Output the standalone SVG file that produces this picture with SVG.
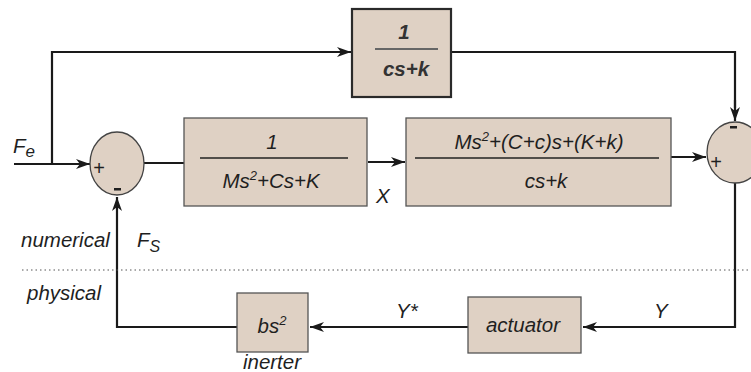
<svg xmlns="http://www.w3.org/2000/svg" width="751" height="372" viewBox="0 0 751 372">
<defs>
<marker id="arr" viewBox="0 0 14 10" refX="14" refY="5" markerWidth="14" markerHeight="10" markerUnits="userSpaceOnUse" orient="auto">
<path d="M0,0 L14,5 L0,10 L4,5 Z" fill="#1a1a1a"/>
</marker>
</defs>
<style>
.box{fill:#dfd1c4;stroke:#555;stroke-width:1.3}
.box2{fill:#dfd1c4;stroke:#2a2a2a;stroke-width:2.2}
.sum{fill:#dfd1c4;stroke:#444;stroke-width:1.3}
.frac{stroke:#222;stroke-width:1.6}
.fracg{stroke:#666;stroke-width:2}
.ln{fill:none;stroke:#1a1a1a;stroke-width:2.2}
.ar{marker-end:url(#arr)}
.dot{stroke:#555;stroke-width:1;stroke-dasharray:1.5 3}
text{font-family:"Liberation Sans",Arial,sans-serif;font-style:italic;font-size:20.5px;fill:#1f1f1f}
.c{text-anchor:middle}
.b{font-weight:bold;fill:#333}
.sign{font-style:normal;font-size:20px;text-anchor:middle}
</style>
<rect width="751" height="372" fill="#fff"/>
<g id="connectors">
<polyline class="ln ar" points="14,164 90,164"/>
<polyline class="ln ar" points="52,164 52,52 351,52"/>
<polyline class="ln" points="452,52 735,52 735,108"/>
<path class="ln ar" d="M735,100 L735,121"/>
<polyline class="ln" points="144,163 184,163"/>
<polyline class="ln ar" points="368,162 405,162"/>
<polyline class="ln ar" points="671,157 706,157"/>
<polyline class="ln ar" points="735,183 735,327 583,327"/>
<polyline class="ln ar" points="468,327 310,327"/>
<polyline class="ln ar" points="237,327 117,327 117,197"/>
<line class="dot" x1="22" y1="270" x2="751" y2="270"/>
</g>
<g id="top-block">
<rect class="box2" x="352" y="9" width="99" height="88"/>
<text class="c b" x="404" y="39">1</text>
<line class="fracg" x1="375" y1="49" x2="438" y2="49"/>
<text class="c b" x="406" y="76">cs+k</text>
</g>
<g id="sum1">
<ellipse class="sum" cx="117" cy="163.5" rx="27" ry="31.5"/>
<text class="sign" x="99" y="175">+</text>
<rect x="114" y="188" width="7" height="2.5" fill="#1f1f1f"/>
</g>
<g id="block1">
<rect class="box" x="184" y="118" width="183" height="88"/>
<text class="c" x="272" y="149">1</text>
<line class="frac" x1="200" y1="158" x2="348" y2="158"/>
<text class="c" x="271" y="188">Ms<tspan font-size="13" dy="-8">2</tspan><tspan dy="8">+Cs+K</tspan></text>
</g>
<g id="block2">
<rect class="box" x="406" y="118" width="265" height="88"/>
<text class="c" x="539" y="149">Ms<tspan font-size="13" dy="-8">2</tspan><tspan dy="8">+(C+c)s+(K+k)</tspan></text>
<line class="frac" x1="415" y1="158" x2="659" y2="158"/>
<text class="c" x="546" y="188">cs+k</text>
</g>
<g id="sum2">
<ellipse class="sum" cx="735" cy="152.5" rx="28" ry="30.5"/>
<rect x="730" y="126" width="7" height="2.5" fill="#1f1f1f"/>
<text class="sign" x="716" y="169">+</text>
</g>
<g id="actuator">
<rect class="box" x="468" y="297" width="113" height="56"/>
<text class="c" x="523" y="332">actuator</text>
</g>
<g id="inerter">
<rect class="box" x="237" y="293" width="71" height="59"/>
<text class="c" x="272" y="333">bs<tspan font-size="13" dy="-8">2</tspan></text>
<text class="c" x="272" y="369">inerter</text>
</g>
<g id="labels">
<text x="13" y="153">F<tspan font-size="17" dy="4">e</tspan></text>
<text x="376" y="203">X</text>
<text x="137" y="247">F<tspan font-size="16" dy="5">S</tspan></text>
<text x="21" y="247">numerical</text>
<text x="27" y="300">physical</text>
<text x="396" y="318">Y*</text>
<text x="654" y="318">Y</text>
</g>
</svg>
